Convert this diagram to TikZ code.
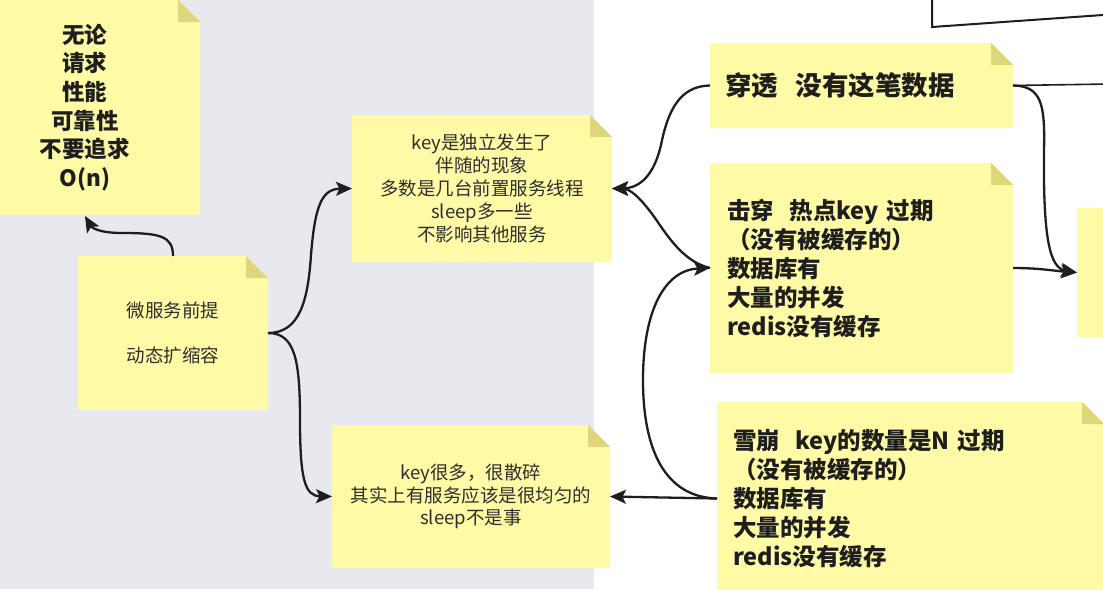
\documentclass[tikz,border=0pt]{standalone}
\usepackage{fontspec}
\setmainfont{Noto Sans CJK SC}
\usetikzlibrary{arrows.meta,calc}
\definecolor{notefill}{HTML}{FEFAA6}
\definecolor{foldfill}{HTML}{DDD67A}
\definecolor{bgleft}{HTML}{E8E9EE}
\definecolor{ink}{HTML}{1E1E1E}
\definecolor{softink}{HTML}{2E2E2E}
\pgfdeclarelayer{background}
\pgfsetlayers{background,main}
\newcommand{\stickybg}[1]{%
 \begin{pgfonlayer}{background}
 \fill[notefill] (#1.south west) -- (#1.north west) -- ([xshift=-22pt]#1.north east) -- ([yshift=-22pt]#1.north east) -- (#1.south east) -- cycle;
 \fill[foldfill] ([xshift=-22pt]#1.north east) -- ([yshift=-22pt]#1.north east) -- ([xshift=-22pt,yshift=-22pt]#1.north east) -- cycle;
 \end{pgfonlayer}}
\tikzset{
  notebox/.style={anchor=north west, inner xsep=16pt, inner ysep=0pt, outer sep=0pt},
  bigbold/.style={font=\bfseries\fontsize{23.5pt}{29pt}\selectfont, text=ink, align=left},
  smallreg/.style={font=\fontsize{18.5pt}{22.8pt}\selectfont, text=softink, align=center},
  conn/.style={draw=ink, line width=2.3pt, -{Stealth[length=16pt,width=14pt,inset=3.5pt]}},
  plainline/.style={draw=ink, line width=1.6pt}
}
\begin{document}
\begin{tikzpicture}[x=1pt,y=-1pt]
\useasboundingbox (0,0) rectangle (1103,589);
\clip (0,0) rectangle (1103,589);
\begin{pgfonlayer}{background}
\fill[white] (0,0) rectangle (1103,589);
\fill[bgleft] (0,0) rectangle (594,589);
\end{pgfonlayer}

% notes
\node[notebox, minimum width=230pt, minimum height=215pt, text width=198pt,
      font=\bfseries\fontsize{22.5pt}{28.6pt}\selectfont, text=ink, align=center]
  (n1) at (-30,0) {无论\\请求\\性能\\可靠性\\不要追求\\O(n)};
\node[notebox, smallreg, minimum width=190pt, minimum height=154pt, text width=158pt]
  (n2) at (78,256) {微服务前提\\[22.5pt]动态扩缩容};
\node[notebox, smallreg, minimum width=260pt, minimum height=147pt, text width=228pt]
  (n3) at (352,115) {key是独立发生了\\伴随的现象\\多数是几台前置服务线程\\sleep多一些\\不影响其他服务};
\node[notebox, smallreg, minimum width=278pt, minimum height=143pt, text width=246pt]
  (n4) at (332,425) {key很多，很散碎\\其实上有服务应该是很均匀的\\sleep不是事};
\node[notebox, minimum width=303pt, minimum height=85pt, text width=273pt, inner xsep=15pt,
      font=\bfseries\fontsize{26.5pt}{30pt}\selectfont, text=ink, align=left]
  (n5) at (710,43) {穿透\ \ 没有这笔数据};
\node[notebox, bigbold, minimum width=303pt, minimum height=210pt, text width=269pt, inner xsep=17pt]
  (n6) at (710,163) {击穿\ \ 热点key 过期\\（没有被缓存的）\\数据库有\\大量的并发\\redis没有缓存};
\node[notebox, bigbold, minimum width=387pt, minimum height=193pt, text width=355pt]
  (n7) at (717,402) {雪崩\ \ key的数量是N 过期\\（没有被缓存的）\\数据库有\\大量的并发\\redis没有缓存};
\node[notebox, minimum width=60pt, minimum height=129pt] (n8) at (1077,208) {};
\foreach \n in {n1,n2,n3,n4,n5,n6,n7,n8} {\stickybg{\n}}

% outlined box at the top right
\coordinate (boxa) at (932,-5);
\coordinate (boxb) at (932,27);
\coordinate (boxc) at (1110,14.5);
\draw[plainline, line width=2pt] (boxa) -- (boxb) -- (boxc);

% connectors
\draw[conn] ([xshift=95pt]n2.north west) .. controls (173,236) and (160,233) .. (122,233)
   .. controls (100,233) and (92,228) .. ([xshift=115pt,yshift=-1pt]n1.south west);
\draw[conn] (n2.east) .. controls (300,333) and (308,300) .. (311,255)
   .. controls (315,205) and (322,189) .. (n3.west);
\draw[conn] (n2.east) .. controls (295,333) and (300,360) .. (300,420)
   .. controls (300,480) and (305,496) .. (n4.west);
\draw[conn] (n5.west) .. controls (680,86) and (668,110) .. (661,145)
   .. controls (654,175) and (640,188) .. (n3.east);
\draw[conn] (n6.west) .. controls (685,262) and (670,240) .. (655,218)
   .. controls (640,197) and (630,189) .. (n3.east);
\draw[conn] (n7.west) .. controls (665,497) and (643,450) .. (643,380)
   .. controls (643,310) and (665,270) .. (n6.west);
\draw[conn] (n7.west) -- (n4.east);
\draw[conn] (n6.east) .. controls (1040,268) and (1055,271) .. (n8.west);
\draw[conn] (n5.east) .. controls (1042,86) and (1045,105) .. (1044,150)
   .. controls (1043,240) and (1050,268) .. (n8.west);
\coordinate (exitr) at (1110,84);
\draw[plainline] (n5.east) -- (exitr);
\end{tikzpicture}
\end{document}
